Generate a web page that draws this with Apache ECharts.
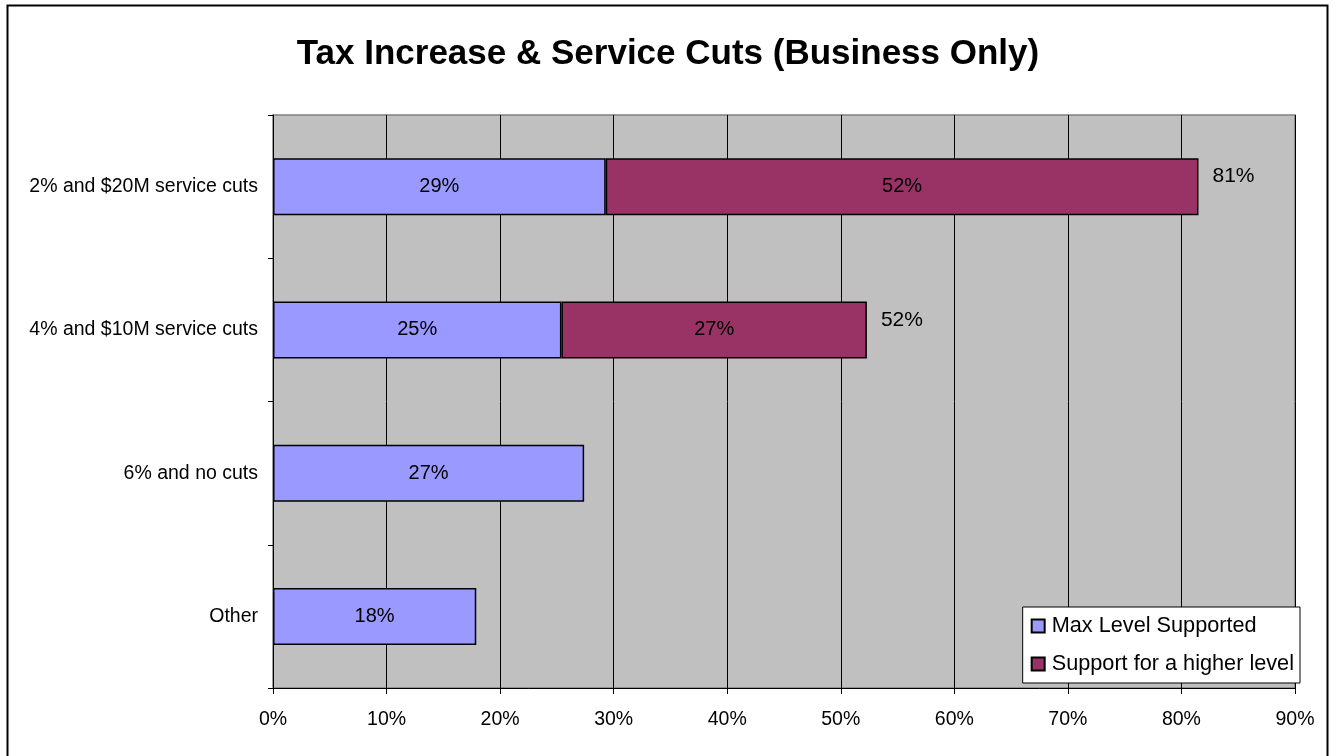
<!DOCTYPE html>
<html>
<head>
<meta charset="utf-8">
<script src="https://cdn.jsdelivr.net/npm/echarts@6/dist/echarts.min.js"></script>
<style>
  html, body { margin: 0; padding: 0; background: #fff; }
  #chart { width: 1336px; height: 756px; }
</style>
</head>
<body>
<div id="chart"></div>
<script>
// data
const categories = ['2% and $20M service cuts', '4% and $10M service cuts', '6% and no cuts', 'Other'];
const maxLevel = [29.3, 25.4, 27.4, 17.9];
const higherLevel = [52.2, 26.9, null, null];
const totals = [81, 52, null, null];
const xTicks = [0, 90, 10]; // min, max, interval

let chart = echarts.init(document.getElementById('chart'));

const font = 'Liberation Sans, Arial, sans-serif';

let option = {
    animation: false,
    backgroundColor: '#fff',
    textStyle: { fontFamily: font },
    title: {
        text: 'Tax Increase & Service Cuts (Business Only)',
        left: 'center',
        top: 32,
        textStyle: { fontSize: 35, fontWeight: 'bold', color: '#000', fontFamily: font }
    },
    graphic: [{
        type: 'rect',
        shape: { x: 7.5, y: 5.5, width: 1320, height: 760 },
        style: { fill: null, stroke: '#000', lineWidth: 2 },
        z: 100
    }],
    legend: {
        orient: 'vertical',
        right: 36,
        bottom: 73,
        data: ['Max Level Supported', 'Support for a higher level'],
        backgroundColor: '#fff',
        borderColor: '#000',
        borderWidth: 1,
        borderRadius: 0,
        padding: [8, 6, 8, 8],
        itemWidth: 13,
        itemHeight: 13,
        itemGap: 16,
        icon: 'rect',
        textStyle: { fontSize: 21.7, lineHeight: 22, color: '#000', fontFamily: font, padding: [0, 0, 0, 2] }
    },
    grid: {
        left: 273,
        right: 41,
        top: 115,
        bottom: 68,
        show: true,
        backgroundColor: '#C0C0C0',
        borderColor: '#808080',
        borderWidth: 1.5
    },
    xAxis: {
        type: 'value',
        min: xTicks[0],
        max: xTicks[1],
        interval: xTicks[2],
        axisLine: { show: true, lineStyle: { color: '#000', width: 1 } },
        axisTick: { show: true, length: 6, lineStyle: { color: '#000' } },
        axisLabel: { formatter: '{value}%', fontSize: 19.5, color: '#000', margin: 22, fontFamily: font },
        splitLine: { show: true, lineStyle: { color: '#000', width: 1 } }
    },
    yAxis: {
        type: 'category',
        inverse: true,
        data: categories,
        axisLine: { show: true, lineStyle: { color: '#000', width: 1 } },
        axisTick: { show: true, length: 5, lineStyle: { color: '#000' } },
        axisLabel: { fontSize: 19.5, color: '#000', margin: 15, fontFamily: font }
    },
    series: [
        {
            name: 'Max Level Supported',
            type: 'bar',
            stack: 'total',
            barWidth: 57,
            data: maxLevel,
            itemStyle: { color: '#9999FF', borderColor: '#000', borderWidth: 1.5 },
            label: {
                show: true,
                position: 'inside',
                formatter: p => Math.round(p.value) + '%',
                fontSize: 20, color: '#000', fontFamily: font
            }
        },
        {
            name: 'Support for a higher level',
            type: 'bar',
            stack: 'total',
            barWidth: 57,
            data: higherLevel,
            itemStyle: { color: '#993366', borderColor: '#000', borderWidth: 1.5 },
            label: {
                show: true,
                position: 'inside',
                formatter: p => Math.round(p.value) + '%',
                fontSize: 20, color: '#000', fontFamily: font
            }
        },
        {
            name: 'Total',
            type: 'bar',
            stack: 'total',
            barWidth: 57,
            data: totals.map(t => t == null ? null : 0),
            itemStyle: { color: 'transparent', borderWidth: 0 },
            label: {
                show: true,
                position: 'right',
                distance: 14,
                offset: [0, -10],
                formatter: p => totals[p.dataIndex] + '%',
                fontSize: 21, color: '#000', fontFamily: font
            }
        }
    ]
};

chart.setOption(option);
</script>
</body>
</html>
